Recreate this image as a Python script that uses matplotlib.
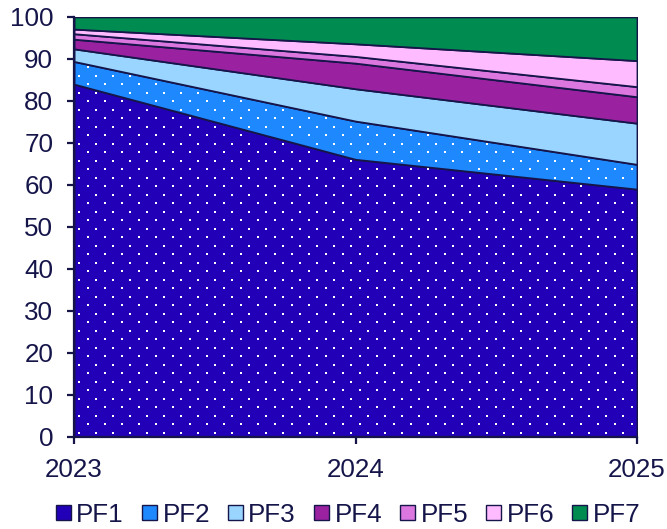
import matplotlib
matplotlib.use("Agg")
import matplotlib.pyplot as plt
from matplotlib.patches import Patch
import numpy as np

years = [2023, 2024, 2025]
series_names = ["PF1", "PF2", "PF3", "PF4", "PF5", "PF6", "PF7"]
pf1 = [84.0, 66.1, 59.0]
pf2 = [5.4, 9.1, 5.9]
pf3 = [3.0, 7.7, 9.8]
pf4 = [2.3, 6.1, 6.3]
pf5 = [1.3, 1.6, 2.4]
pf6 = [1.1, 3.0, 6.2]
pf7 = [2.9, 6.4, 10.4]
y_ticks = list(range(0, 101, 10))

colors = ["#2200b8", "#1e88ff", "#99d5ff", "#9a22a0", "#dd77e0", "#ffbbff", "#008c50"]
ink = "#15154a"
dotted_bands = (0, 1)
font_size = 18.7

plt.rcParams["font.family"] = ["Liberation Sans", "DejaVu Sans"]

W, H, DPI = 6.67, 5.29, 100
fig = plt.figure(figsize=(W, H), dpi=DPI)
ax = fig.add_axes([0.111, 0.174, 0.844, 0.794])

values = np.array([pf1, pf2, pf3, pf4, pf5, pf6, pf7])
x = np.array(years, dtype=float)
ax.stackplot(x, values, colors=colors, edgecolor=ink, linewidth=1.3, zorder=2)

ax.set_xlim(years[0], years[-1])
ax.set_ylim(0, 100)

# staggered white dot texture inside the dotted bands
cum = np.vstack([np.zeros(len(x)), np.cumsum(values, axis=0)])
bbox = ax.get_window_extent()
step = 17.0
rows = np.arange(bbox.y0 + 4, bbox.y1, step / 2)
pts = []
for r, yp in enumerate(rows):
    off = 5 if r % 2 == 0 else 5 + step / 2
    for xp in np.arange(bbox.x0 + off, bbox.x1, step):
        pts.append((xp, yp))
pts = np.array(pts)
data_pts = ax.transData.inverted().transform(pts)
px_per_unit = bbox.height / 100.0
margin = 2.5 / px_per_unit
for i in dotted_bands:
    lo = np.interp(data_pts[:, 0], x, cum[i])
    hi = np.interp(data_pts[:, 0], x, cum[i + 1])
    m = (data_pts[:, 1] > lo + margin) & (data_pts[:, 1] < hi - margin)
    ax.scatter(data_pts[m, 0], data_pts[m, 1], s=2.4, marker="s", color="white",
               linewidths=0, zorder=3)

ax.set_xticks(years)
ax.set_xticklabels([str(y) for y in years])
ax.set_yticks(y_ticks)

for side in ("top", "right"):
    ax.spines[side].set_visible(False)
for side in ("left", "bottom"):
    ax.spines[side].set_color(ink)
    ax.spines[side].set_linewidth(1.6)
    ax.spines[side].set_zorder(5)

ax.tick_params(axis="both", colors=ink, labelcolor=ink, labelsize=font_size,
               length=5, width=1.6, direction="out")
ax.tick_params(axis="y", pad=10)
ax.tick_params(axis="x", pad=10)

handles = [Patch(facecolor=c, edgecolor=ink, linewidth=1.0) for c in colors]
leg = fig.legend(handles, series_names, loc="center", bbox_to_anchor=(0.522, 0.027),
                 ncol=7, frameon=False, fontsize=font_size, handlelength=0.58,
                 handleheight=0.55, handletextpad=0.2, columnspacing=0.7,
                 borderaxespad=0, borderpad=0)
for t in leg.get_texts():
    t.set_color(ink)

fig.savefig("out.png", dpi=DPI)
